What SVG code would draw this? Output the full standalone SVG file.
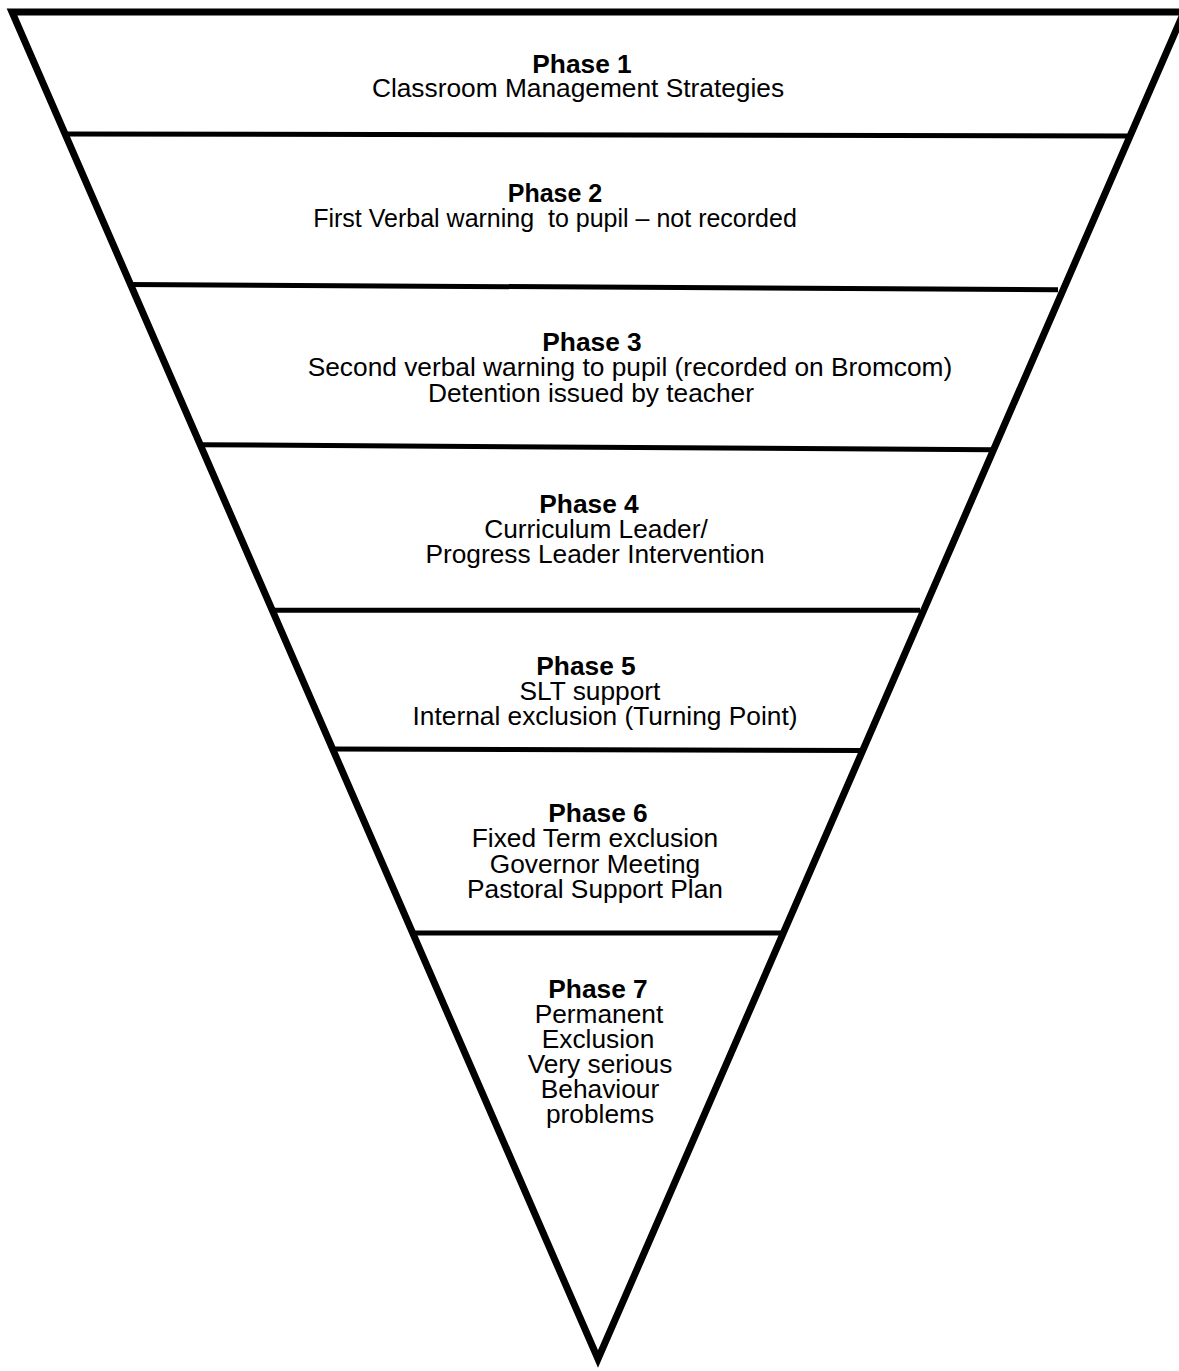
<svg xmlns="http://www.w3.org/2000/svg" width="1179" height="1371" viewBox="0 0 1179 1371">
<style>
.t{font-family:"Liberation Sans",Arial,sans-serif;font-size:26.3px;fill:#000;text-anchor:middle;white-space:pre}
.b{font-weight:bold}
.s{font-size:25px}
.div{stroke:#000;stroke-width:5;fill:none;stroke-linecap:butt}
.edge{stroke:#000;stroke-width:7;fill:none;stroke-linejoin:miter;stroke-miterlimit:10}
</style>
<rect width="1179" height="1371" fill="#fff"/>
<g id="frame">
<path class="edge" d="M12,12 L1184,12 L598,1359 Z"/>
</g>
<g id="connectors">
<line class="div" x1="64" y1="134" x2="1129" y2="136"/>
<line class="div" x1="128" y1="284.5" x2="1058" y2="289.7"/>
<line class="div" x1="198" y1="444.7" x2="993" y2="449.7"/>
<line class="div" x1="270" y1="610.3" x2="920" y2="610.3"/>
<line class="div" x1="330" y1="749" x2="864" y2="750.5"/>
<line class="div" x1="410" y1="933" x2="785" y2="933"/>
</g>
<g id="phase1">
<text class="t b" x="582" y="73">Phase 1</text>
<text class="t" x="578" y="97">Classroom Management Strategies</text>
</g>
<g id="phase2">
<text class="t s b" x="555" y="202">Phase 2</text>
<text class="t s" x="555" y="227">First Verbal warning  to pupil – not recorded</text>
</g>
<g id="phase3">
<text class="t b" x="592" y="351">Phase 3</text>
<text class="t" x="630" y="376">Second verbal warning to pupil (recorded on Bromcom)</text>
<text class="t" x="591" y="402">Detention issued by teacher</text>
</g>
<g id="phase4">
<text class="t b" x="589" y="513">Phase 4</text>
<text class="t" x="596" y="538">Curriculum Leader/</text>
<text class="t" x="595" y="563">Progress Leader Intervention</text>
</g>
<g id="phase5">
<text class="t b" x="586" y="675">Phase 5</text>
<text class="t" x="590" y="700">SLT support</text>
<text class="t" x="605" y="725">Internal exclusion (Turning Point)</text>
</g>
<g id="phase6">
<text class="t b" x="598" y="822">Phase 6</text>
<text class="t" x="595" y="847">Fixed Term exclusion</text>
<text class="t" x="595" y="873">Governor Meeting</text>
<text class="t" x="595" y="898">Pastoral Support Plan</text>
</g>
<g id="phase7">
<text class="t b" x="598" y="998">Phase 7</text>
<text class="t" x="599" y="1023">Permanent</text>
<text class="t" x="598" y="1048">Exclusion</text>
<text class="t" x="600" y="1073">Very serious</text>
<text class="t" x="600" y="1098">Behaviour</text>
<text class="t" x="600" y="1123">problems</text>
</g>
</svg>
